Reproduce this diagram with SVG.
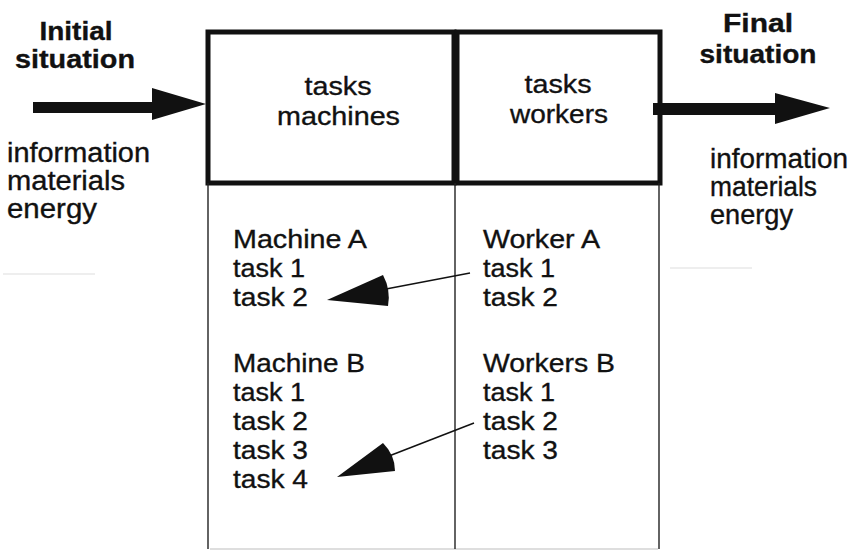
<svg xmlns="http://www.w3.org/2000/svg" width="853" height="550" viewBox="0 0 853 550">
  <style>
    text { font-family: "Liberation Sans", Arial, Helvetica, sans-serif; fill: #111; stroke: #111; stroke-width: 0.35; }
    .title { font-size: 26px; font-weight: bold; text-anchor: middle; }
    .side { font-size: 27px; }
    .head { font-size: 26px; text-anchor: middle; }
    .item { font-size: 26px; }
    .frame { fill: none; stroke: #111; stroke-width: 5; }
    .thin { fill: none; stroke: #222; stroke-width: 1.4; }
    .link { fill: none; stroke: #111; stroke-width: 1.5; }
    .head-fill { fill: #111; stroke: none; }
    .faint { stroke: #e8e8e8; stroke-width: 1.5; }
  </style>

  <rect width="853" height="550" fill="#ffffff"/>

  <!-- faint scan traces -->
  <line class="faint" x1="3" y1="274" x2="95" y2="274"/>
  <line class="faint" x1="670" y1="268" x2="752" y2="268"/>
  <line x1="210" y1="549" x2="658" y2="549" stroke="#bdbdbd" stroke-width="1.2"/>

  <!-- Initial situation (input) -->
  <g id="initial">
    <text class="title" x="76" y="40" textLength="73" lengthAdjust="spacingAndGlyphs">Initial</text>
    <text class="title" x="75" y="68" textLength="120" lengthAdjust="spacingAndGlyphs">situation</text>
    <text class="side" x="7" y="162" textLength="143" lengthAdjust="spacingAndGlyphs">information</text>
    <text class="side" x="7" y="190" textLength="118" lengthAdjust="spacingAndGlyphs">materials</text>
    <text class="side" x="7" y="218" textLength="90" lengthAdjust="spacingAndGlyphs">energy</text>
  </g>

  <!-- Final situation (output) -->
  <g id="final">
    <text class="title" x="758" y="32" textLength="70" lengthAdjust="spacingAndGlyphs">Final</text>
    <text class="title" x="758" y="63" textLength="117" lengthAdjust="spacingAndGlyphs">situation</text>
    <text class="side" x="710" y="168" textLength="138" lengthAdjust="spacingAndGlyphs">information</text>
    <text class="side" x="710" y="196" textLength="107" lengthAdjust="spacingAndGlyphs">materials</text>
    <text class="side" x="710" y="224" textLength="83" lengthAdjust="spacingAndGlyphs">energy</text>
  </g>

  <!-- Machines column -->
  <g id="machines">
    <rect class="frame" x="208" y="32" width="246" height="151"/>
    <line class="thin" x1="208" y1="183" x2="208" y2="549"/>
    <text class="head" x="338" y="95" textLength="67" lengthAdjust="spacingAndGlyphs">tasks</text>
    <text class="head" x="338.5" y="125" textLength="123" lengthAdjust="spacingAndGlyphs">machines</text>
    <text class="item" x="233" y="248" textLength="134" lengthAdjust="spacingAndGlyphs">Machine A</text>
    <text class="item" x="233" y="277" textLength="72" lengthAdjust="spacingAndGlyphs">task 1</text>
    <text class="item" x="233" y="306" textLength="75" lengthAdjust="spacingAndGlyphs">task 2</text>
    <text class="item" x="233" y="372" textLength="132" lengthAdjust="spacingAndGlyphs">Machine B</text>
    <text class="item" x="233" y="401" textLength="72" lengthAdjust="spacingAndGlyphs">task 1</text>
    <text class="item" x="233" y="430" textLength="75" lengthAdjust="spacingAndGlyphs">task 2</text>
    <text class="item" x="233" y="459" textLength="75" lengthAdjust="spacingAndGlyphs">task 3</text>
    <text class="item" x="233" y="488" textLength="75" lengthAdjust="spacingAndGlyphs">task 4</text>
  </g>

  <!-- Workers column -->
  <g id="workers">
    <rect class="frame" x="457" y="32" width="203" height="151"/>
    <line class="thin" x1="455" y1="183" x2="455" y2="549"/>
    <line class="thin" x1="659" y1="183" x2="659" y2="549"/>
    <text class="head" x="558" y="93" textLength="67" lengthAdjust="spacingAndGlyphs">tasks</text>
    <text class="head" x="559" y="123" textLength="98" lengthAdjust="spacingAndGlyphs">workers</text>
    <text class="item" x="483" y="248" textLength="117" lengthAdjust="spacingAndGlyphs">Worker A</text>
    <text class="item" x="483" y="277" textLength="72" lengthAdjust="spacingAndGlyphs">task 1</text>
    <text class="item" x="483" y="306" textLength="75" lengthAdjust="spacingAndGlyphs">task 2</text>
    <text class="item" x="483" y="372" textLength="132" lengthAdjust="spacingAndGlyphs">Workers B</text>
    <text class="item" x="483" y="401" textLength="72" lengthAdjust="spacingAndGlyphs">task 1</text>
    <text class="item" x="483" y="430" textLength="75" lengthAdjust="spacingAndGlyphs">task 2</text>
    <text class="item" x="483" y="459" textLength="75" lengthAdjust="spacingAndGlyphs">task 3</text>
  </g>

  <!-- Connectors -->
  <g id="connectors">
    <!-- input arrow -->
    <rect class="head-fill" x="33" y="102" width="122" height="11"/>
    <polygon class="head-fill" points="152,88 206,104 152,120"/>
    <!-- output arrow -->
    <rect class="head-fill" x="653" y="103" width="125" height="12"/>
    <polygon class="head-fill" points="775,93 830,108 775,124"/>
    <!-- worker A task 1 to machine A task 2 -->
    <line class="link" x1="470" y1="273" x2="386" y2="289"/>
    <path class="head-fill" d="M327,300 L383,275 Q391,290 388,306 Z"/>
    <!-- workers B task 2 to machine B task 4 -->
    <line class="link" x1="474" y1="423" x2="389" y2="456"/>
    <path class="head-fill" d="M337,477 L383,443 Q395,455 395,471 Z"/>
  </g>
</svg>
